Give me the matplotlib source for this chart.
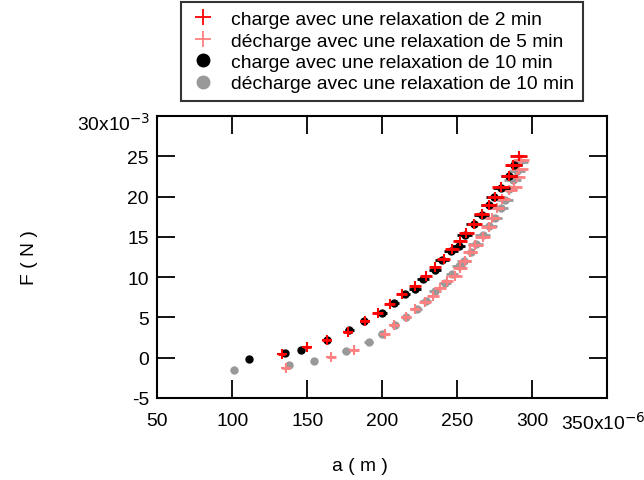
import matplotlib
matplotlib.use("Agg")
import matplotlib.pyplot as plt
from matplotlib.lines import Line2D

plt.rcParams['font.family'] = ['Liberation Sans', 'DejaVu Sans']

# charge, relaxation 2 min (a in 1e-6 m, F in 1e-3 N)
r_a = [133, 150, 163, 177, 188.5, 197, 205, 213, 222, 229, 235.5, 241, 246.5,
       252, 256, 261.5, 266.5, 271, 275.5, 279, 284.5, 287.5, 291]
r_F = [0.45, 1.35, 2.2, 3.2, 4.55, 5.5, 6.65, 7.9, 8.85, 10.1, 11.2, 12.3, 13.5,
       14.5, 15.5, 16.6, 17.8, 18.9, 20.0, 21.2, 22.5, 23.9, 25.0]
r_err = [2.5, 2.5, 3, 3, 3, 3.5, 3.5, 3.5, 4, 4, 4, 4.5, 4.5,
         4.5, 5, 5, 5, 5, 5.5, 5.5, 5.5, 5.5, 5.5]

# decharge, relaxation 5 min
p_a = [136, 166, 181.5, 202, 208, 216, 222, 228.5, 234, 238.5, 243, 248.5, 252,
       255, 258.7, 262, 267, 271, 273.5, 276.5, 280, 284.5, 288, 290, 291.5, 292.5]
p_F = [-1.3, 0.05, 1.0, 2.9, 4.0, 5.0, 6.0, 6.9, 7.7, 8.7, 9.5, 10.2, 11.1,
       12.0, 13.1, 14.0, 15.0, 16.2, 17.4, 18.6, 19.7, 20.8, 21.2, 22.4, 23.4, 24.6]
p_err = [2.5, 3, 3, 3, 3.5, 3.5, 3.5, 4, 4, 4, 4, 4.5, 4.5,
         4.5, 4.5, 5, 5, 5, 5, 5, 5.5, 5.5, 5.5, 5.5, 5.5, 5.5]

# charge, relaxation 10 min
b_a = [111, 135, 146, 163, 178, 188, 200, 208, 215, 222, 227, 235, 240, 246,
       251, 255, 261, 266.5, 271, 274.5, 279.5, 284.5, 288]
b_F = [-0.2, 0.55, 0.9, 2.2, 3.4, 4.5, 5.6, 6.85, 7.9, 8.5, 9.75, 10.9, 12.1, 13.2,
       13.9, 15.2, 16.6, 17.7, 18.9, 20.0, 21.1, 22.6, 23.9]
b_err = [1.5, 2, 2, 2.5, 3, 3, 3, 3.5, 3.5, 4, 4, 4, 4.5, 4.5,
         4.5, 5, 5, 5, 5, 5, 5.5, 5.5, 5.5]

# decharge, relaxation 10 min
g_a = [101.5, 138, 154.5, 176, 191, 200, 208.5, 216, 223, 229, 235, 242, 246.5,
       251, 254.5, 259, 262.5, 267, 271.5, 275, 279, 282, 284.5, 287, 290, 291.5]
g_F = [-1.5, -0.9, -0.45, 0.87, 2.0, 3.0, 4.0, 5.0, 6.0, 7.0, 8.3, 9.3, 10.4,
       11.4, 12.0, 13.1, 14.1, 15.2, 16.4, 17.4, 18.6, 19.6, 20.9, 22.0, 23.2, 24.3]
g_err = [1.5, 2, 2, 2.5, 3, 3, 3, 3.5, 3.5, 3.5, 4, 4, 4, 4.5,
         4.5, 4.5, 5, 5, 5, 5, 5, 5.5, 5.5, 5.5, 5.5, 5.5]

labels = ["charge avec une relaxation de 2 min",
          "décharge avec une relaxation de 5 min",
          "charge avec une relaxation de 10 min",
          "décharge avec une relaxation de 10 min"]

x_ticks = [50, 100, 150, 200, 250, 300]
y_ticks = [-5, 0, 5, 10, 15, 20, 25]

RED, PINK, BLACK, GREY = '#ff0000', '#ff8080', 'black', '#999999'
FS = 13.9

fig = plt.figure(figsize=(6.44, 4.81), dpi=100)
ax = fig.add_axes([157.3 / 644, 1 - 399 / 481, 449.7 / 644, 282 / 481])

ax.errorbar(g_a, g_F, xerr=g_err, fmt='o', color=GREY, ms=5,
            elinewidth=2, capsize=0, zorder=2)
ax.errorbar(p_a, p_F, xerr=p_err, fmt='+', color=PINK, ms=7, mew=1.5,
            elinewidth=2, capsize=0, zorder=3)
ax.errorbar(b_a, b_F, xerr=b_err, fmt='o', color=BLACK, ms=5,
            elinewidth=2, capsize=0, zorder=4)
ax.errorbar(r_a, r_F, xerr=r_err, fmt='+', color=RED, ms=7, mew=1.5,
            elinewidth=2, capsize=0, zorder=5)

ax.set_xlim(50, 350)
ax.set_ylim(-5, 30)
ax.set_xticks(x_ticks)
ax.set_xticklabels([str(v) for v in x_ticks])
ax.set_yticks(y_ticks)
ax.set_yticklabels([str(v) for v in y_ticks])
ax.tick_params(direction='in', length=13, width=1.3, labelsize=FS,
               top=True, right=True)
ax.tick_params(axis='x', pad=10)
ax.tick_params(axis='y', pad=6)
for s in ax.spines.values():
    s.set_linewidth(1.5)

# Igor style end labels with exponent
ax.annotate("350x10$^{-6}$", xy=(350, -5), xycoords='data',
            xytext=(-3, -9), textcoords='offset points',
            ha='center', va='top', fontsize=FS, annotation_clip=False)
ax.annotate("30x10$^{-3}$", xy=(50, 30), xycoords='data',
            xytext=(-5, -5), textcoords='offset points',
            ha='right', va='center', fontsize=FS, annotation_clip=False)

fig.text(30 / 644, 1 - 258 / 481, "F ( N )", rotation=90, ha='center',
         va='center', fontsize=FS)
fig.text(360 / 644, 1 - 467 / 481, "a ( m )", ha='center', va='center',
         fontsize=FS)

handles = [Line2D([], [], ls='none', marker='+', color=RED, ms=11, mew=1.3),
           Line2D([], [], ls='none', marker='+', color=PINK, ms=11, mew=1.3),
           Line2D([], [], ls='none', marker='o', color=BLACK, ms=9),
           Line2D([], [], ls='none', marker='o', color=GREY, ms=9)]
leg = fig.legend(handles, labels,
                 loc='upper left', bbox_to_anchor=(181 / 644, 1 - 3 / 481),
                 fontsize=FS, frameon=True, fancybox=False, edgecolor='black',
                 borderaxespad=0, labelspacing=0.2, handletextpad=0.75,
                 handlelength=1.4, borderpad=0.45)
leg.get_frame().set_linewidth(1.5)

fig.savefig("out.png", dpi=100)
